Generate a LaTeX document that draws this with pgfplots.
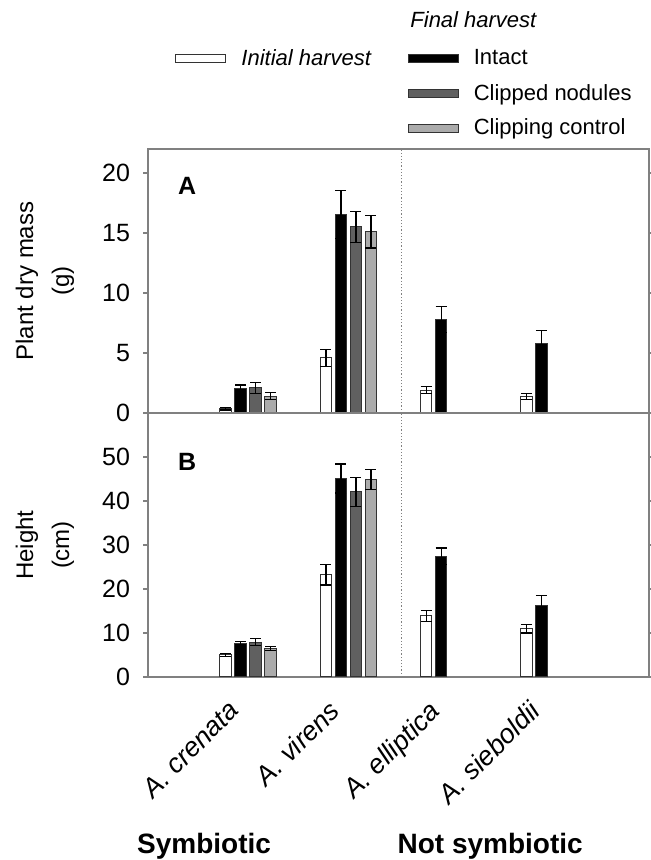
\documentclass[border=0pt]{standalone}
\usepackage{fontspec}
\setmainfont{Liberation Sans}
\usepackage{pgfplots}
\pgfplotsset{compat=1.18}

\definecolor{darkbar}{HTML}{606060}
\definecolor{lightbar}{HTML}{ABABAB}
\definecolor{edge}{HTML}{333333}
\definecolor{frame}{HTML}{808080}

\newcommand{\labsize}{\fontsize{12}{14}\selectfont}
\newcommand{\ticksize}{\fontsize{12.5}{14}\selectfont}
\newcommand{\legsize}{\fontsize{11}{13}\selectfont}

\pgfplotsset{
  panel/.style={
    width=250.5pt, height=132pt, scale only axis,
    xmin=0, xmax=5, enlargelimits=false,
    ybar, bar width=5.75pt,
    axis line style={frame, line width=0.6pt},
    tick align=outside, major tick length=2.5pt,
    ytick style={frame, line width=0.6pt},
    xtick={1,2,3,4}, xtick style={draw=none},
    tick label style={font=\ticksize},
    yticklabel style={xshift=-3pt},
    /pgf/number format/assume math mode=true,
    label style={font=\labsize},
    ylabel style={at={(axis description cs:-0.206,0.5)}, anchor=center, align=center},
    clip=false,
  },
  bars/.style={draw=edge, line width=0.5pt,
    error bars/y dir=both, error bars/y explicit,
    error bars/error mark options={rotate=90, mark size=2.75pt, line width=0.6pt, black},
    error bars/error bar style={line width=0.6pt, black}},
}

\begin{document}
\begin{tikzpicture}
\path[use as bounding box] (0pt,0pt) rectangle (325.5pt,430pt);

% panel A: plant dry mass
\begin{axis}[panel, at={(74pt,223.5pt)}, anchor=south west,
    ymin=0, ymax=22, ytick={0,5,10,15,20},
    xticklabels={},
    ylabel={Plant dry mass\\[4pt](g)},
    legend columns=2,
    legend cell align=left,
    legend image code/.code={\draw[#1] (0pt,-2pt) rectangle (25pt,2pt);},
    legend style={draw=none, fill=none, font=\legsize,
      at={(axis description cs:0.042,1.21)}, anchor=west,
      /tikz/row sep=4pt,
      /tikz/every odd column/.append style={column sep=5.5pt},
      /tikz/every even column/.append style={column sep=16pt}},
]
\addplot[bars, fill=white, bar shift=-11.25pt] coordinates {
  (1,0.35) +- (0,0.1) (2,4.6) +- (0,0.7) (3,1.9) +- (0,0.3) (4,1.35) +- (0,0.25)};
\addplot[bars, fill=black, bar shift=-3.75pt] coordinates {
  (1,2.0) +- (0,0.33) (2,16.55) +- (0,2.0) (3,7.8) +- (0,1.1) (4,5.8) +- (0,1.1)};
\addlegendimage{empty legend}
\addplot[bars, fill=darkbar, bar shift=3.75pt] coordinates {
  (1,2.1) +- (0,0.47) (2,15.5) +- (0,1.3)};
\addlegendimage{empty legend}
\addplot[bars, fill=lightbar, bar shift=11.25pt] coordinates {
  (1,1.4) +- (0,0.28) (2,15.1) +- (0,1.35)};
\legend{\textit{Initial harvest}, Intact, \mbox{}, Clipped nodules, \mbox{}, Clipping control}
\draw[frame, densely dotted, line width=0.6pt] (axis cs:2.53,0) -- (axis cs:2.53,22);
\node[font=\fontsize{12.5}{14}\selectfont\bfseries] at (axis description cs:0.078,0.86) {A};
\node[font=\legsize\itshape, anchor=west, inner sep=0pt] at (axis description cs:0.523,1.489) {Final harvest};
\end{axis}

% panel B: height
\begin{axis}[panel, at={(74pt,91.5pt)}, anchor=south west,
    ymin=0, ymax=60, ytick={0,10,20,30,40,50},
    xticklabels={A. crenata, A. virens, A. elliptica, A. sieboldii},
    xticklabel style={xshift=-10.5pt, yshift=-3.5pt, rotate=45, anchor=north east,
      font=\fontsize{13.5}{15}\selectfont\itshape},
    ylabel={Height\\[4pt](cm)},
]
\addplot[bars, fill=white, bar shift=-11.25pt] coordinates {
  (1,5.0) +- (0,0.3) (2,23.2) +- (0,2.3) (3,13.9) +- (0,1.2) (4,11.0) +- (0,1.0)};
\addplot[bars, fill=black, bar shift=-3.75pt] coordinates {
  (1,7.6) +- (0,0.5) (2,45.1) +- (0,3.3) (3,27.4) +- (0,1.9) (4,16.3) +- (0,2.3)};
\addplot[bars, fill=darkbar, bar shift=3.75pt] coordinates {
  (1,7.9) +- (0,0.8) (2,42.1) +- (0,3.3)};
\addplot[bars, fill=lightbar, bar shift=11.25pt] coordinates {
  (1,6.5) +- (0,0.5) (2,44.9) +- (0,2.3)};
\draw[frame, densely dotted, line width=0.6pt] (axis cs:2.53,0) -- (axis cs:2.53,60);
\node[font=\fontsize{12.5}{14}\selectfont\bfseries] at (axis description cs:0.078,0.814) {B};
\node[font=\fontsize{14}{16}\selectfont\bfseries, inner sep=0pt, anchor=base]
  at (axis description cs:0.112,-0.670) {Symbiotic};
\node[font=\fontsize{14}{16}\selectfont\bfseries, inner sep=0pt, anchor=base]
  at (axis description cs:0.683,-0.670) {Not symbiotic};
\end{axis}
\end{tikzpicture}
\end{document}
